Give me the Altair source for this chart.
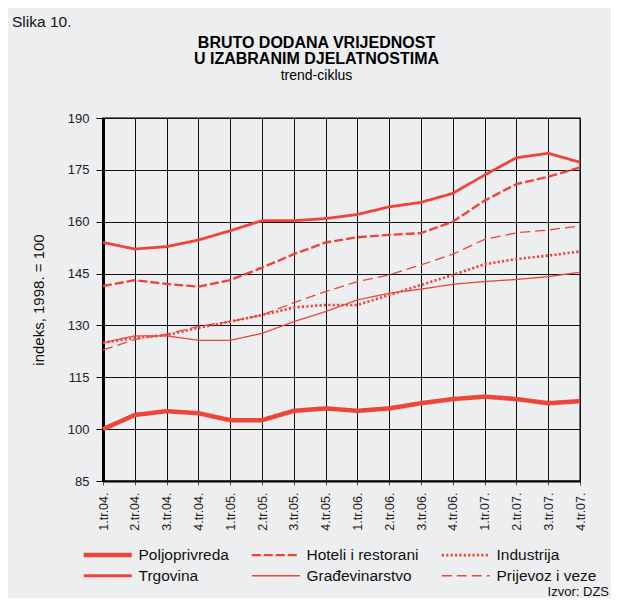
import altair as alt
import pandas as pd

quarters = ["1.tr.04.", "2.tr.04.", "3.tr.04.", "4.tr.04.",
            "1.tr.05.", "2.tr.05.", "3.tr.05.", "4.tr.05.",
            "1.tr.06.", "2.tr.06.", "3.tr.06.", "4.tr.06.",
            "1.tr.07.", "2.tr.07.", "3.tr.07.", "4.tr.07."]

poljoprivreda = [100.0, 104.1, 105.2, 104.6, 102.6, 102.6, 105.3, 106.0,
                 105.3, 106.0, 107.5, 108.7, 109.4, 108.7, 107.5, 108.1]
trgovina = [154.0, 152.1, 152.8, 154.7, 157.4, 160.3, 160.3, 160.9,
            162.1, 164.3, 165.6, 168.2, 173.5, 178.5, 179.8, 177.2]
hoteli = [141.4, 143.1, 142.0, 141.2, 143.1, 146.7, 150.6, 154.0,
          155.5, 156.2, 156.7, 160.0, 166.1, 170.9, 173.0, 175.7]
industrija = [125.0, 126.4, 127.2, 129.3, 131.1, 133.0, 135.2, 135.9,
              135.9, 138.8, 141.7, 144.6, 147.7, 149.2, 150.2, 151.4]
gradjevinarstvo = [125.0, 127.0, 127.0, 125.7, 125.7, 127.7, 131.1, 134.0,
                   137.4, 139.3, 140.5, 141.9, 142.7, 143.3, 144.1, 145.4]
prijevoz = [122.9, 125.9, 127.5, 129.7, 131.1, 133.0, 136.6, 139.8,
            142.7, 144.6, 147.5, 150.6, 154.9, 156.8, 157.6, 158.8]

# legend fills column by column: (Poljoprivreda, Trgovina), (Hoteli, Građevinarstvo), (Industrija, Prijevoz)
series_names = ["Poljoprivreda", "Trgovina", "Hoteli i restorani",
                "Građevinarstvo", "Industrija", "Prijevoz i veze"]
series_values = [poljoprivreda, trgovina, hoteli, gradjevinarstvo, industrija, prijevoz]

y_ticks = [85, 100, 115, 130, 145, 160, 175, 190]

# styles
RED = "#ef4438"
dashes = [[1, 0], [1, 0], [9, 3], [1, 0], [2.2, 2.2], [10, 5]]
widths = [4.5, 2.8, 2.4, 1.3, 2.6, 1.3]
FONT = "Liberation Sans"

rows = []
for name, vals in zip(series_names, series_values):
    for q, v in zip(quarters, vals):
        rows.append({"series": name, "quarter": q, "value": v})
df = pd.DataFrame(rows)

width_conditions = [{"test": f"datum.series === '{n}'", "value": w}
                    for n, w in zip(series_names, widths)]
width_expr = " : ".join(
    [f"datum.value === '{n}' ? {w}" for n, w in zip(series_names, widths)]
) + " : 1.3"

leg = alt.Legend(
    orient="none", legendX=-3, legendY=429, columns=3, title=None,
    symbolType="stroke", symbolSize=2304, labelFont=FONT, labelFontSize=15.5,
    labelColor="#111", labelOffset=23, columnPadding=17, rowPadding=4,
    padding=0, labelLimit=300,
    symbolStrokeWidth=alt.ExprRef(expr=width_expr),
)

lines = alt.Chart(df).mark_line().encode(
    x=alt.X("quarter:N", sort=quarters,
            scale=alt.Scale(type="point", padding=0),
            axis=alt.Axis(title=None, labelAngle=-90, labelFont=FONT,
                          labelFontSize=12.5, labelColor="#222", labelPadding=7,
                          tickSize=4, tickColor="#555", domainColor="black",
                          domainWidth=2, grid=True, gridColor="#111",
                          gridWidth=1, gridOpacity=1)),
    y=alt.Y("value:Q", scale=alt.Scale(domain=[85, 190], nice=False, zero=False),
            axis=alt.Axis(values=y_ticks, title="indeks, 1998. = 100",
                          titleFont=FONT, titleFontSize=15, titleFontWeight="normal",
                          titleColor="#111", titleX=-64.5, titleY=181.5,
                          titleAngle=-90, titleAlign="center", titleBaseline="middle",
                          labelFont=FONT, labelFontSize=13, labelColor="#222",
                          labelPadding=7, tickSize=7, tickColor="black",
                          domainColor="black", domainWidth=3, grid=True,
                          gridColor="#111", gridWidth=1, gridOpacity=1)),
    color=alt.Color("series:N", scale=alt.Scale(domain=series_names, range=[RED] * 6),
                    legend=leg),
    strokeDash=alt.StrokeDash("series:N", scale=alt.Scale(domain=series_names, range=dashes),
                              legend=leg),
    strokeWidth=alt.value(1.3, condition=width_conditions),
)

slika = alt.Chart(pd.DataFrame({"t": ["Slika 10."]})).mark_text(
    font=FONT, fontSize=15.5, align="left", baseline="alphabetic", color="#111"
).encode(text="t:N", x=alt.value(-91), y=alt.value(-91))

izvor = alt.Chart(pd.DataFrame({"t": ["Izvor: DZS"]})).mark_text(
    font=FONT, fontSize=13, align="right", baseline="alphabetic", color="#111"
).encode(text="t:N", x=alt.value(506), y=alt.value(478))

chart = alt.layer(lines, slika, izvor).properties(
    width=477, height=363,
    autosize=alt.AutoSizeParams(type="none"),
    padding={"left": 95, "top": 110, "right": 31, "bottom": 117},
    background="#eceef0",
    title=alt.TitleParams(
        text=["BRUTO DODANA VRIJEDNOST", "U IZABRANIM DJELATNOSTIMA"],
        subtitle="trend-ciklus", anchor="middle", frame="group", dx=-25,
        offset=-68, font=FONT, fontSize=16, fontWeight="bold", color="black",
        lineHeight=16, subtitleFont=FONT, subtitleFontSize=14,
        subtitleColor="black", subtitlePadding=2,
    ),
).configure_view(stroke="#444", strokeWidth=1.5)

chart.save("out.html", embed_options={"renderer": "svg", "actions": False})
